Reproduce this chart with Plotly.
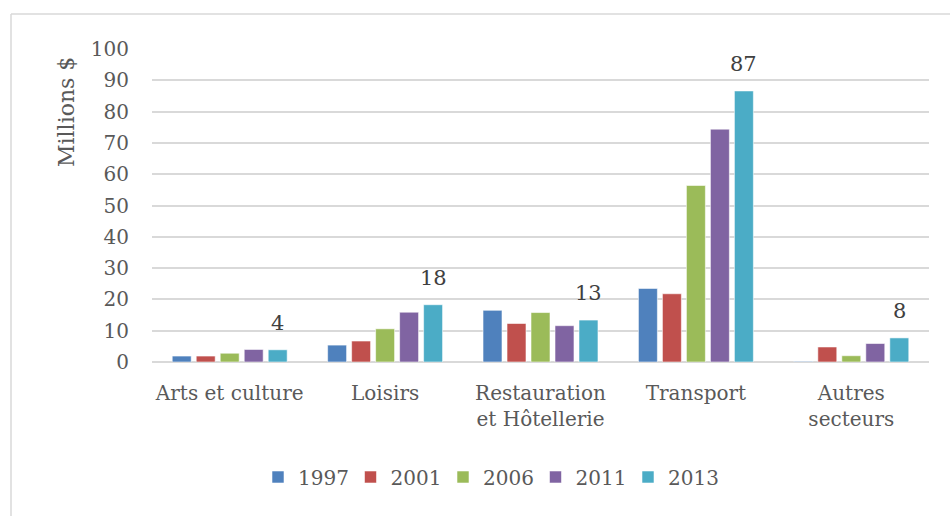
import plotly.graph_objects as go

# Categories (tick labels) and yearly values, millions of dollars
categories = ["Arts et culture", "Loisirs", "Restauration<br>et Hôtellerie",
              "Transport", "Autres<br>secteurs"]
years = ["1997", "2001", "2006", "2011", "2013"]
v1997 = [1.9, 5.4, 16.5, 23.5, 0.2]
v2001 = [1.9, 6.7, 12.3, 21.8, 4.8]
v2006 = [2.8, 10.6, 15.8, 56.4, 2.0]
v2011 = [4.0, 15.9, 11.6, 74.4, 5.9]
v2013 = [3.9, 18.3, 13.4, 86.6, 7.7]
series = [v1997, v2001, v2006, v2011, v2013]
colors = ["#4F81BD", "#C0504D", "#9BBB59", "#8064A2", "#4BACC6"]

W, H = 950, 516
ML, MR, MT, MB = 152, 21, 49, 154
BARGAP = 0.228
BARGROUPGAP = 0.21
FONT = "DejaVu Serif"
TXT = "#595959"

xs = list(range(len(categories)))

fig = go.Figure()
for name, vals, col in zip(years, series, colors):
    fig.add_trace(go.Bar(
        x=xs, y=vals, name=name,
        marker=dict(color=col, line=dict(color="rgba(255,255,255,0.55)", width=1)),
        hoverinfo="skip",
    ))

# Value labels above the 2013 bars (last bar of each group)
group_w = 1 - BARGAP
n = len(series)
last_offset = -group_w / 2 + group_w / n * (n - 0.5)
annotations = []
for i, v in enumerate(v2013):
    annotations.append(dict(
        x=xs[i] + last_offset, y=v, xref="x", yref="y",
        text=f"{round(v):d}", showarrow=False,
        yanchor="middle", yshift=27,
        font=dict(family=FONT, size=21, color="#404040"),
    ))

pw = W - ML - MR
ph = H - MT - MB

# Y axis title
annotations.append(dict(
    x=(67 - ML) / pw, y=(H - MB - 112) / ph, xref="paper", yref="paper",
    text="Millions $", textangle=-90, showarrow=False,
    xanchor="center", yanchor="middle",
    font=dict(family=FONT, size=22, color=TXT),
))

# Chart frame (left and top edges)
fx = (11 - ML) / pw
fy = (H - MB - 14) / ph
shapes = [
    dict(type="line", xref="paper", yref="paper", x0=fx, x1=(W + 5 - ML) / pw,
         y0=fy, y1=fy, line=dict(color="#D9D9D9", width=1.5)),
    dict(type="line", xref="paper", yref="paper", x0=fx, x1=fx,
         y0=fy, y1=(H - MB - H - 5) / ph, line=dict(color="#D9D9D9", width=1.5)),
]

fig.update_layout(
    width=W, height=H,
    margin=dict(l=ML, r=MR, t=MT, b=MB, pad=0),
    paper_bgcolor="white", plot_bgcolor="white",
    barmode="group", bargap=BARGAP, bargroupgap=BARGROUPGAP,
    font=dict(family=FONT, size=20, color=TXT),
    showlegend=True,
    legend=dict(
        orientation="h", x=(258 - ML) / pw, xanchor="left",
        y=(H - MB - 477) / ph, yanchor="middle",
        font=dict(family=FONT, size=20, color=TXT),
        entrywidth=47.5, traceorder="normal",
    ),
    annotations=annotations,
    shapes=shapes,
)
fig.update_xaxes(
    tickmode="array", tickvals=xs, ticktext=categories,
    range=[-0.5, len(categories) - 0.5],
    showgrid=False, zeroline=False, showline=False,
    ticks="", ticklabelstandoff=17,
    tickfont=dict(family=FONT, size=20, color=TXT),
)
fig.update_yaxes(
    range=[0, 100], dtick=10, showgrid=True, gridcolor="#D9D9D9", gridwidth=1.5,
    zeroline=True, zerolinecolor="#D9D9D9", zerolinewidth=1.5,
    showline=False, ticks="", ticklabelstandoff=22,
    tickfont=dict(family=FONT, size=20, color=TXT),
)

fig.write_html("out.html")
